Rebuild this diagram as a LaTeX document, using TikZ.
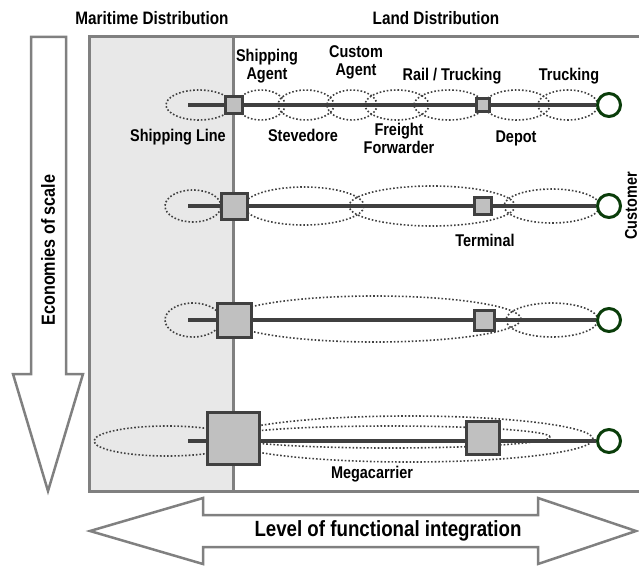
\documentclass[tikz,border=0pt]{standalone}
\usepackage{fontspec}
\setmainfont{Liberation Sans}[FakeStretch=0.85]
\usepackage{xcolor}
\definecolor{frameGray}{HTML}{808080}
\definecolor{maritimeGray}{HTML}{E8E8E8}
\definecolor{boxGray}{HTML}{C0C0C0}
\definecolor{chainDark}{HTML}{404040}
\definecolor{customerGreen}{HTML}{0A3D0A}
\usepackage{tikz}
\usetikzlibrary{positioning}

\begin{document}
\begin{tikzpicture}[
        x=1pt, y=-1pt,
        frameLine/.style={
            draw=frameGray,
            line width=3pt
        },
        bigArrow/.style={
            draw=frameGray,
            fill=white,
            line width=2.5pt,
            line join=miter
        },
        actorZone/.style={
            draw=chainDark,
            line width=1.6pt,
            dash pattern=on 1.6pt off 2pt
        },
        chainLine/.style={
            draw=chainDark,
            line width=3.5pt
        },
        portBox/.style={
            draw=chainDark,
            fill=boxGray,
            line width=3pt,
            inner sep=0pt,
            minimum size=#1
        },
        customerNode/.style={
            circle,
            draw=customerGreen,
            fill=white,
            line width=3pt,
            inner sep=0pt,
            minimum size=23pt
        },
        actorLabel/.style={
            font=\fontsize{17}{18}\selectfont\bfseries,
            align=center,
            inner sep=0pt
        },
        axisLabel/.style={
            font=\fontsize{19}{21}\selectfont\bfseries,
            inner sep=0pt
        }
    ]
    \useasboundingbox (0,0) rectangle (639,567);

    % Maritime / Land frame
    \fill[maritimeGray] (89,37) rectangle (233,491);
    \draw[frameLine] (639,37) -| (89,491) -- (639,491);
    \draw[frameLine] (233,37) -- (233,491);

    \node[actorLabel, font=\fontsize{18}{20}\selectfont\bfseries] (maritime) at (152,18) {Maritime Distribution};
    \node[actorLabel, font=\fontsize{18}{20}\selectfont\bfseries] (land) at (436,18) {Land Distribution};

    % Economies of scale arrow
    \draw[bigArrow] (31,37) -- (66,37) -- (66,374) -- (83,374) -- (48,491) -- (13,374) -- (31,374) -- cycle;
    \node[axisLabel, rotate=90] (scale) at (48,250) {Economies of scale};

    % Functional integration arrow
    \draw[bigArrow] (90,531) -- (203,498) -- (203,515) -- (538,515) -- (538,498) -- (636,531)
        -- (538,564) -- (538,547) -- (203,547) -- (203,564) -- cycle;
    \node[axisLabel, font=\fontsize{22}{24}\selectfont\bfseries] (integration) at (388,531) {Level of functional integration};

    % Row 1: fragmented chain
    \draw[actorZone] (199,105) ellipse [x radius=33pt, y radius=15pt];
    \draw[actorZone] (261,105) ellipse [x radius=24pt, y radius=15pt];
    \draw[actorZone] (306,105) ellipse [x radius=28pt, y radius=15pt];
    \draw[actorZone] (352,105) ellipse [x radius=25pt, y radius=15pt];
    \draw[actorZone] (397,105) ellipse [x radius=32pt, y radius=15pt];
    \draw[actorZone] (449,105) ellipse [x radius=35pt, y radius=15pt];
    \draw[actorZone] (517,105) ellipse [x radius=33pt, y radius=15pt];
    \draw[actorZone] (568,105) ellipse [x radius=30pt, y radius=15pt];

    \coordinate (r1start) at (188,105);
    \node[portBox=17pt] (r1port) at (234,105) {};
    \node[portBox=13pt] (r1depot) at (483,105) {};
    \node[customerNode] (r1cust) at (609,105) {};
    \draw[chainLine] (r1start) -- (r1port.west);
    \draw[chainLine] (r1port.east) -- (r1depot.west);
    \draw[chainLine] (r1depot.east) -- (r1cust.west);

    \node[actorLabel] (shipagent) at (267,66) {Shipping\\Agent};
    \node[actorLabel] (customagent) at (356,62) {Custom\\Agent};
    \node[actorLabel] (rail) at (452,76) {Rail / Trucking};
    \node[actorLabel] (trucking) at (569,76) {Trucking};
    \node[actorLabel] (shipline) at (178,137) {Shipping Line};
    \node[actorLabel] (stevedore) at (303,135) {Stevedore};
    \node[actorLabel] (freight) at (399,138) {Freight\\Forwarder};
    \node[actorLabel] (depot) at (516,138) {Depot};

    % Row 2
    \draw[actorZone] (193,206) ellipse [x radius=28pt, y radius=16pt];
    \draw[actorZone] (304,206) ellipse [x radius=60pt, y radius=19pt];
    \draw[actorZone] (432,206) ellipse [x radius=83pt, y radius=20pt];
    \draw[actorZone] (552,206) ellipse [x radius=48pt, y radius=17pt];

    \coordinate (r2start) at (188,206);
    \node[portBox=26pt] (r2port) at (234,206) {};
    \node[portBox=17pt] (r2term) at (483,206) {};
    \node[customerNode] (r2cust) at (609,206) {};
    \draw[chainLine] (r2start) -- (r2port.west);
    \draw[chainLine] (r2port.east) -- (r2term.west);
    \draw[chainLine] (r2term.east) -- (r2cust.west);

    \node[actorLabel] (terminal) at (485,240) {Terminal};
    \node[actorLabel, rotate=90] (customer) at (631,206) {Customer};

    % Row 3
    \draw[actorZone] (193,320) ellipse [x radius=28pt, y radius=17pt];
    \draw[actorZone] (375,319) ellipse [x radius=146pt, y radius=23pt];
    \draw[actorZone] (552,320) ellipse [x radius=46pt, y radius=17pt];

    \coordinate (r3start) at (188,320);
    \node[portBox=34pt] (r3port) at (234,320) {};
    \node[portBox=20pt] (r3term) at (484,320) {};
    \node[customerNode] (r3cust) at (609,320) {};
    \draw[chainLine] (r3start) -- (r3port.west);
    \draw[chainLine] (r3port.east) -- (r3term.west);
    \draw[chainLine] (r3term.east) -- (r3cust.west);

    % Row 4: megacarrier
    \draw[actorZone] (167,441) ellipse [x radius=73pt, y radius=15pt];
    \draw[actorZone] (409,439) ellipse [x radius=184pt, y radius=23pt];
    \draw[actorZone] (390,437) ellipse [x radius=160pt, y radius=11pt];

    \coordinate (r4start) at (188,441);
    \node[portBox=52pt] (r4port) at (233,438) {};
    \node[portBox=33pt] (r4term) at (483,438) {};
    \node[customerNode] (r4cust) at (609,441) {};
    \draw[chainLine] (r4start) -- (r4port.west |- r4start);
    \draw[chainLine] (r4port.east |- r4start) -- (r4term.west |- r4start);
    \draw[chainLine] (r4term.east |- r4start) -- (r4cust.west);

    \node[actorLabel] (mega) at (372,474) {Megacarrier};
\end{tikzpicture}
\end{document}
